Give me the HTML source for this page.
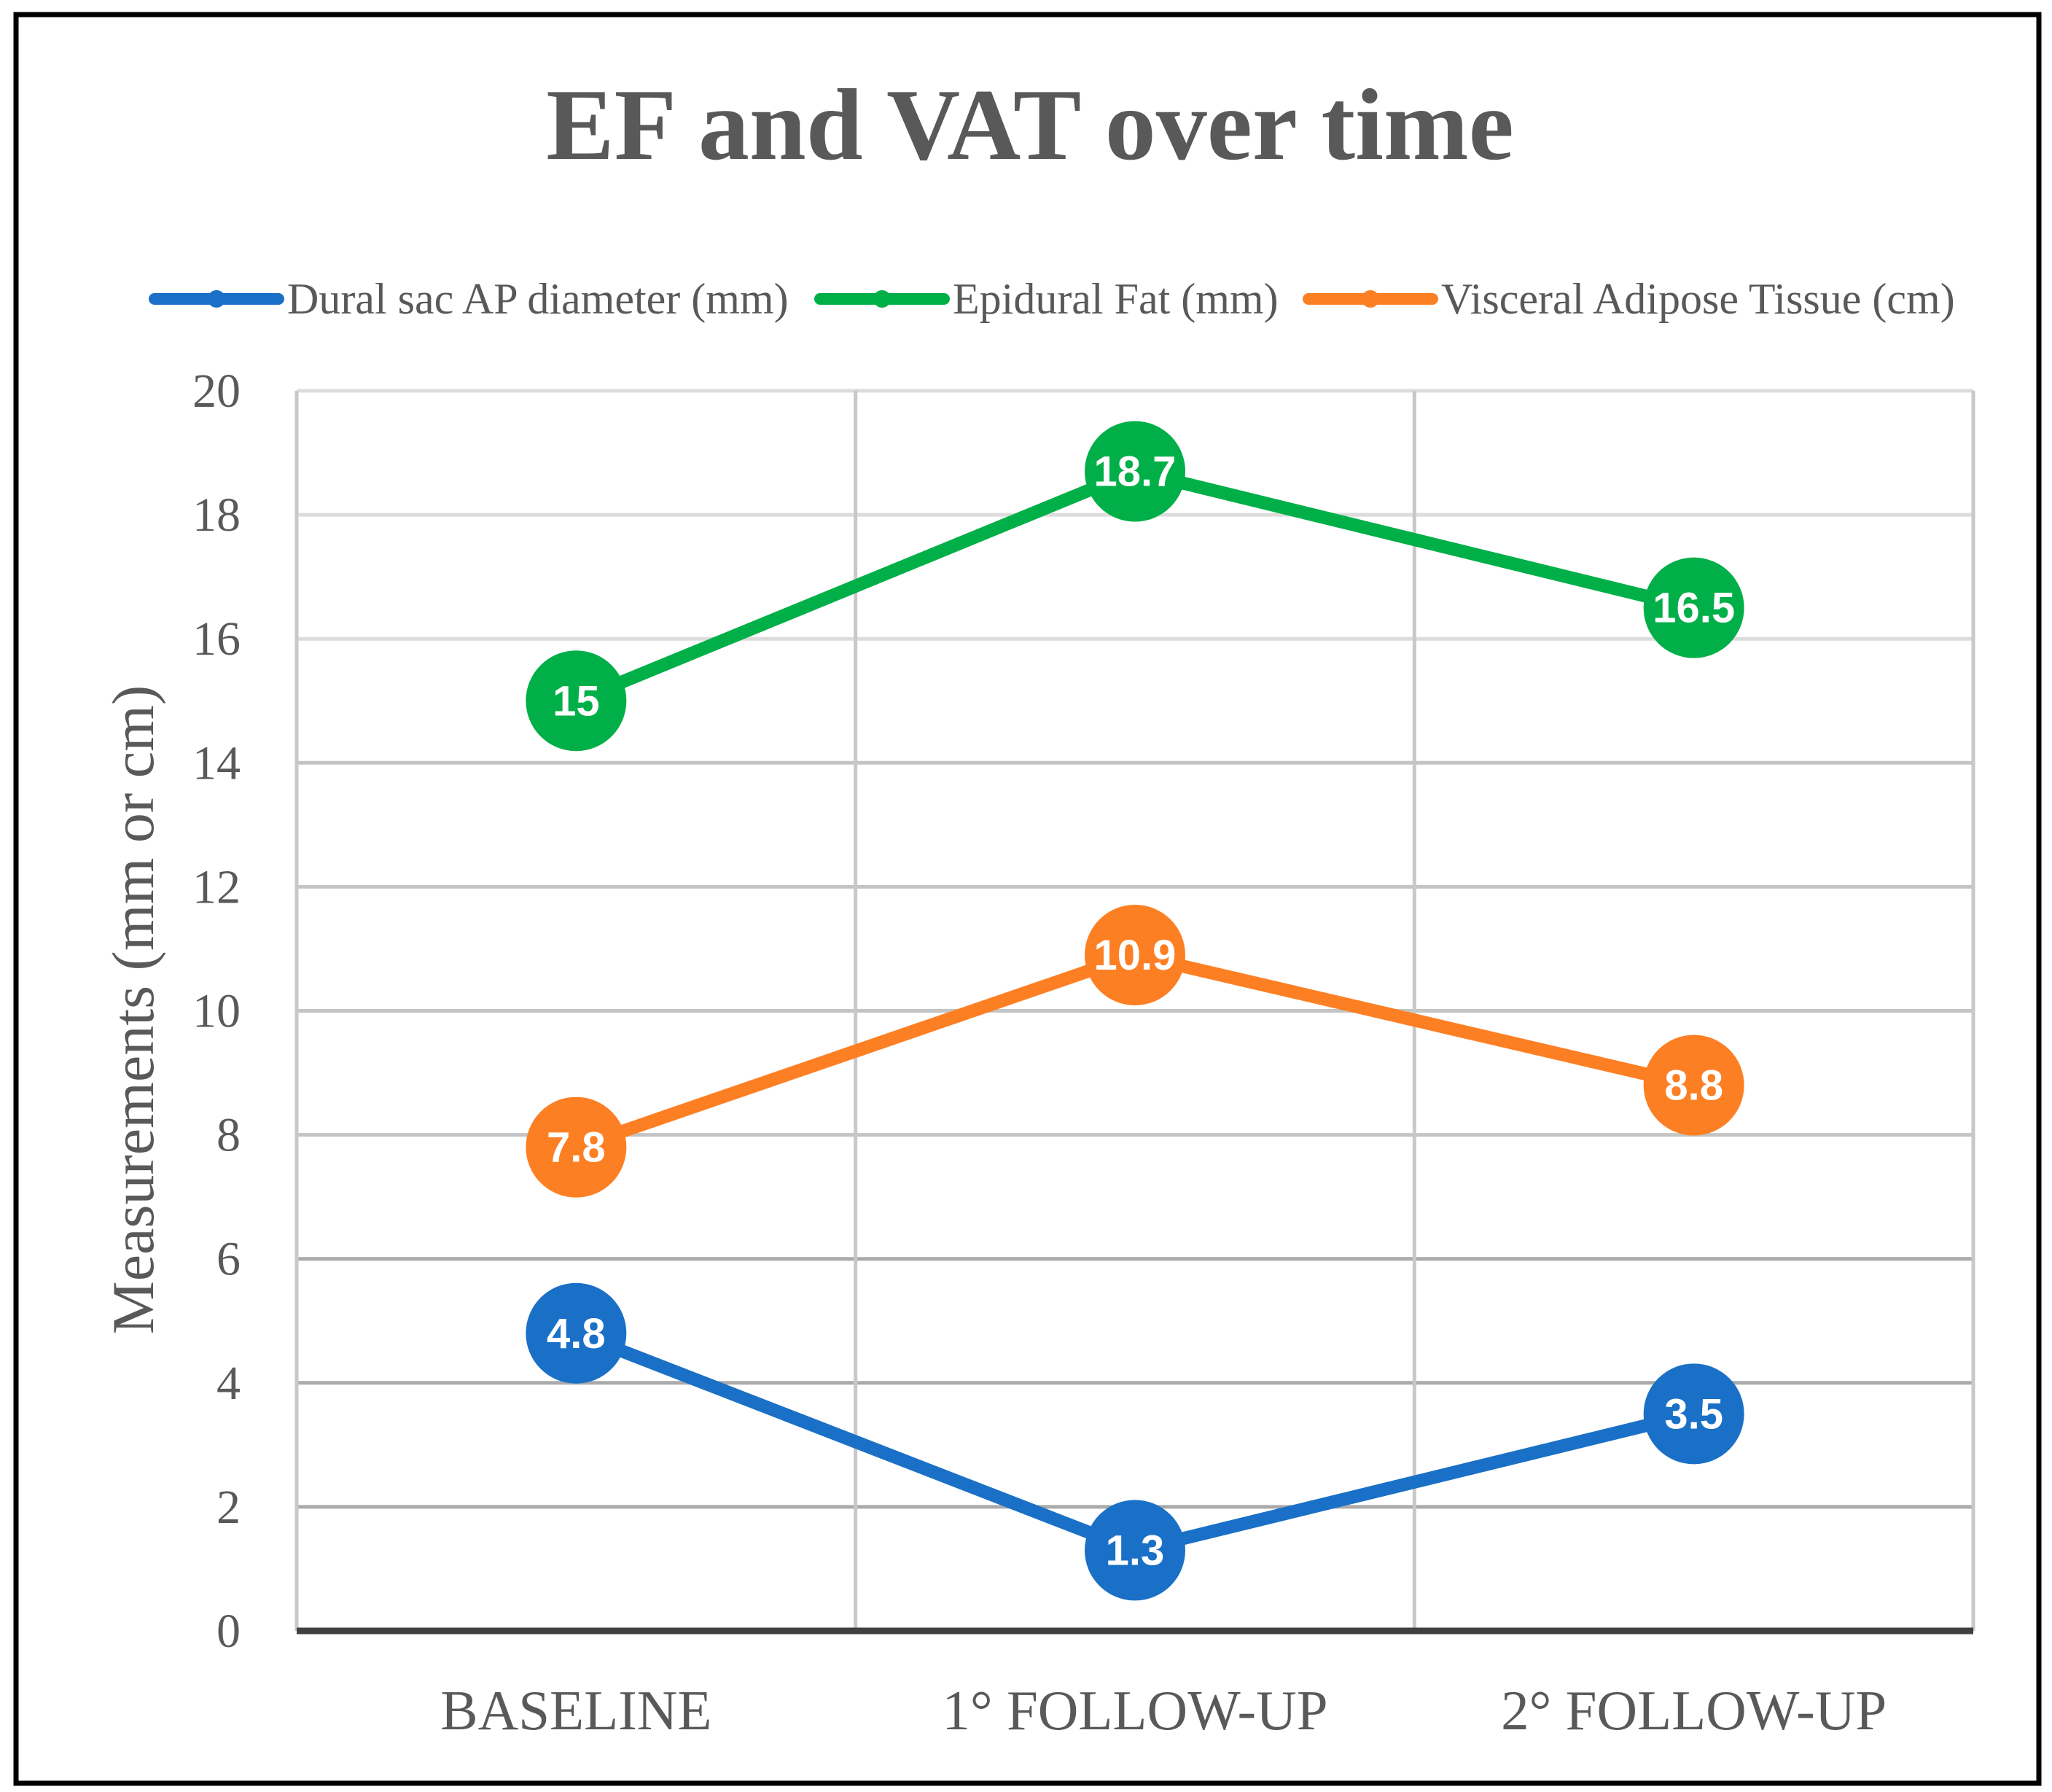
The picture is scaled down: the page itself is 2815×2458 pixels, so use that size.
<!DOCTYPE html>
<html><head><meta charset="utf-8"><style>
html,body{margin:0;padding:0;background:#fff;}
svg{display:block;}
.serif{font-family:"Liberation Serif", serif;}
.sans{font-family:"Liberation Sans", "DejaVu Sans", sans-serif;}
</style></head><body>
<svg id="chart" width="2815" height="2458" viewBox="0 0 2815 2458" xmlns="http://www.w3.org/2000/svg">
<rect x="22" y="20" width="2775" height="2426" fill="#fff" stroke="#000" stroke-width="7"/>
<text class="serif" x="1413" y="218" text-anchor="middle" font-weight="bold" font-size="140" fill="#595959">EF and VAT over time</text>
<g id="legend"></g>
<g id="grid"></g>
<g id="axes"></g>
<g id="series"></g>
<text class="serif" transform="translate(210,1385) rotate(-90)" text-anchor="middle" font-size="82" fill="#595959">Measurements (mm or cm)</text>
</svg>
<script>
const categories = ["BASELINE", "1° FOLLOW-UP", "2° FOLLOW-UP"];
const seriesNames = ["Dural sac AP diameter (mm)", "Epidural Fat (mm)", "Visceral Adipose Tissue (cm)"];
const duralValues = [4.8, 1.3, 3.5];
const epiduralValues = [15, 18.7, 16.5];
const vatValues = [7.8, 10.9, 8.8];
const yTicks = [0, 2, 4, 6, 8, 10, 12, 14, 16, 18, 20];

const NS = "http://www.w3.org/2000/svg";
const plotLeft = 407, plotRight = 2707, plotTop = 536, plotBottom = 2237, yMax = 20;
const colW = (plotRight - plotLeft) / categories.length;
const xPos = i => plotLeft + colW * (i + 0.5);
const yPos = v => plotBottom - (v / yMax) * (plotBottom - plotTop);
function mk(tag, attrs, parent) {
  const e = document.createElementNS(NS, tag);
  for (const k in attrs) e.setAttribute(k, attrs[k]);
  parent.appendChild(e);
  return e;
}
const grid = document.getElementById('grid');
yTicks.forEach((t) => {
  if (t !== 0) {
    const l = mk('line', {x1: plotLeft, x2: plotRight, y1: yPos(t), y2: yPos(t), stroke: t >= 16 ? '#dcdcdc' : (t >= 8 ? '#c4c4c4' : '#aaaaaa'), 'stroke-width': 5}, grid);
    
    
  }
  const tx = mk('text', {x: 330, y: yPos(t) + 22, 'text-anchor': 'end', 'class': 'serif', 'font-size': 66, fill: '#595959'}, grid);
  tx.textContent = t;
  
  
});
for (let i = 0; i <= categories.length; i++) {
  const x = plotLeft + colW * i;
  const l = mk('line', {x1: x, x2: x, y1: plotTop, y2: plotBottom, stroke: '#c8c8c8', 'stroke-width': 5}, grid);
  
  
}
const axes = document.getElementById('axes');
const ax = mk('line', {x1: plotLeft, x2: plotRight, y1: plotBottom, y2: plotBottom, stroke: '#404040', 'stroke-width': 9}, axes);


categories.forEach((c, i) => {
  const t = mk('text', {x: xPos(i), y: 2372, 'text-anchor': 'middle', 'class': 'serif', 'font-size': 77, fill: '#595959'}, axes);
  t.textContent = c;
  
  
});
const colors = ['#1a70c6', '#00af47', '#fd7f24'];
const allValues = [duralValues, epiduralValues, vatValues];
const seriesG = document.getElementById('series');
allValues.forEach((vals, s) => {
  const g = mk('g', {}, seriesG);
  
  
  const pts = vals.map((v, i) => xPos(i) + ',' + yPos(v)).join(' ');
  const pl = mk('polyline', {points: pts, fill: 'none', stroke: colors[s], 'stroke-width': 18, 'stroke-linejoin': 'round'}, g);
  
  
  vals.forEach((v, i) => {
    const c = mk('circle', {cx: xPos(i), cy: yPos(v), r: 69, fill: colors[s]}, g);
    
    
    const t = mk('text', {x: xPos(i), y: yPos(v) + 20, 'text-anchor': 'middle', 'class': 'sans', 'font-weight': 'bold', 'font-size': 58, fill: '#fff'}, g);
    t.textContent = v;
    
    
  });
});
const legend = document.getElementById('legend');
const lx = [212, 1125, 1795];
seriesNames.forEach((n, s) => {
  const g = mk('g', {}, legend);
  
  
  mk('line', {x1: lx[s], x2: lx[s] + 170, y1: 410, y2: 410, stroke: colors[s], 'stroke-width': 16, 'stroke-linecap': 'round'}, g);
  mk('circle', {cx: lx[s] + 85, cy: 410, r: 12, fill: colors[s]}, g);
  const t = mk('text', {x: lx[s] + 182, y: 430, 'class': 'serif', 'font-size': 60, fill: '#595959'}, g);
  t.textContent = n;
});
</script>
</body></html>
